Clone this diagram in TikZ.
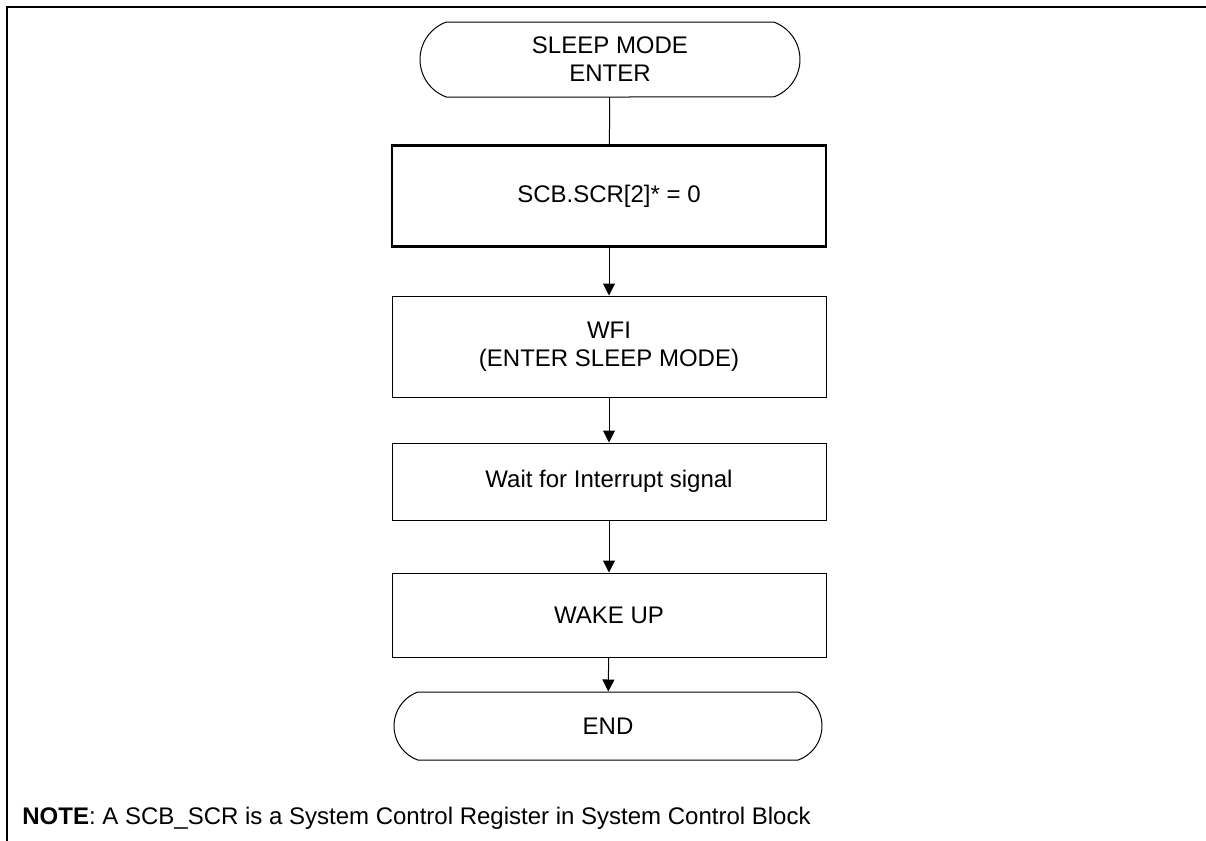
\documentclass[tikz,border=0pt]{standalone}
\usepackage{fontspec}
\setmainfont{Liberation Sans}
\usetikzlibrary{arrows.meta,shapes.misc}
\tikzset{
  lbl/.style={font=\fontsize{12}{14}\selectfont, align=center, inner sep=0pt},
  procbox/.style={lbl, draw, line width=0.5pt, minimum width=217pt},
  thickbox/.style={procbox, line width=1.2pt},
  term/.style={lbl, draw, line width=0.5pt, rounded rectangle, rounded rectangle arc length=140},
  flow/.style={line width=0.5pt, -{Triangle[length=6pt,width=6pt]}},
  plain/.style={line width=0.5pt},
  frame/.style={line width=1pt}
}
\begin{document}
\begin{tikzpicture}[x=0.5pt,y=-0.5pt]
\useasboundingbox (0,0) rectangle (1206,841);
\coordinate (tl) at (7,7);
\coordinate (tr) at (1206,7);
\coordinate (bl) at (7,841);
\draw[frame] (tr) -- (tl) -- (bl);

\node[term, minimum width=190pt, minimum height=37.5pt] (start) at (610,59.5) {SLEEP MODE\\ENTER};
\node[thickbox, minimum height=50.5pt] (scr) at (609,196) {SCB.SCR[2]* = 0};
\node[procbox, minimum height=50.5pt] (wfi) at (609,346.5) {WFI\\(ENTER SLEEP MODE)};
\node[procbox, minimum height=38.5pt] (wait) at (609,481.5) {Wait for Interrupt signal};
\node[procbox, minimum height=42pt] (wake) at (609,615) {WAKE UP};
\node[term, minimum width=214pt, minimum height=34pt] (end) at (608,726) {END};

\draw[plain] (start) -- (scr);
\draw[flow] (scr) -- (wfi);
\draw[flow] (wfi) -- (wait);
\draw[flow] (wait) -- (wake);
\draw[flow] (wake) -- (end);

\node[font=\fontsize{12}{14}\selectfont, anchor=base west, inner sep=0pt] (note) at (22,824) {\textbf{NOTE}: A SCB\_SCR is a System Control Register in System Control Block};
\end{tikzpicture}
\end{document}
